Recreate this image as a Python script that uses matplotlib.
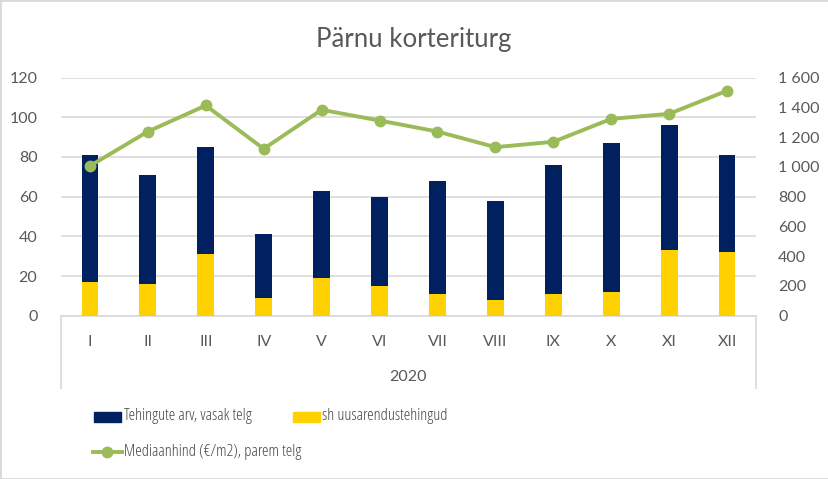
import matplotlib.pyplot as plt
from matplotlib.lines import Line2D
from matplotlib.patches import Rectangle
from matplotlib.ticker import FuncFormatter
import numpy as np

plt.rcParams['font.family'] = ['Lato', 'DejaVu Sans']

months = ["I", "II", "III", "IV", "V", "VI", "VII", "VIII", "IX", "X", "XI", "XII"]
tehingud = [81, 71, 85, 41, 63, 60, 68, 58, 76, 87, 96, 81]
uusarendus = [17, 16, 31, 9, 19, 15, 11, 8, 11, 12, 33, 32]
mediaanhind = [1006, 1237, 1412, 1121, 1383, 1311, 1237, 1132, 1168, 1322, 1356, 1511]
year = "2020"
labels = ["Tehingute arv, vasak telg", "sh uusarendustehingud", "Mediaanhind (€/m2), parem telg"]

NAVY = "#002060"
YELLOW = "#FFD100"
GREEN = "#9BBB59"
TXT = "#595959"
GRID = "#D9D9D9"

W, H = 829, 479
fig = plt.figure(figsize=(W / 100, H / 100), dpi=100)
ax = fig.add_axes([61 / W, 1 - 315.7 / H, (756 - 61) / W, (315.7 - 77.5) / H])
ax2 = ax.twinx()


def px(xp, yp):
    # pixel coords (from top-left) -> figure fraction
    return xp / W, 1 - yp / H


x = np.arange(len(months))
bw = 0.29
ax.bar(x, tehingud, bw, color=NAVY, zorder=2)
ax.bar(x, uusarendus, bw, color=YELLOW, zorder=3)
ax2.plot(x, mediaanhind, color=GREEN, lw=2.8, marker="o", ms=7.5)

ax.set_xlim(-0.5, len(months) - 0.5)
ax.set_ylim(0, 120)
ax.set_yticks(range(0, 121, 20))
ax2.set_ylim(0, 1600)
ax2.set_yticks(range(0, 1601, 200))
ax2.yaxis.set_major_formatter(FuncFormatter(lambda v, p: f"{int(v):,}".replace(",", " ")))

ax.yaxis.grid(True, color=GRID, lw=1.2, zorder=0)
ax.set_axisbelow(True)
for a in (ax, ax2):
    for s in a.spines.values():
        s.set_visible(False)
    a.tick_params(length=0, labelsize=11.5, colors=TXT)
ax.spines["bottom"].set_visible(True)
ax.spines["bottom"].set_color(GRID)
ax.spines["bottom"].set_linewidth(1.2)
ax.tick_params(axis="y", pad=17)
ax2.tick_params(axis="y", pad=16)
ax.set_xticks(x)
ax.set_xticklabels(months)
ax.tick_params(axis="x", pad=14)

# category group box
for xp in (61, 756):
    fig.add_artist(Line2D([xp / W] * 2, [1 - 315.7 / H, 1 - 388 / H], color=GRID, lw=1.2))
fig.text(*px(408, 377), year, ha="center", va="center", fontsize=11.5, color=TXT)

fig.text(*px(414, 40), "Pärnu korteriturg", ha="center", va="center", fontsize=18.5, color=TXT)

# legend, drawn by hand to match the layout (condensed font like the original)
legfont = dict(family=['Open Sans', 'DejaVu Sans'], stretch="condensed", fontsize=12,
               color="#474747", va="center", ha="left")
for (x0, yp, col) in [(94, 416.5, NAVY), (293, 416.5, YELLOW)]:
    fig.add_artist(Rectangle(px(x0, yp + 5), 27 / W, 10 / H, transform=fig.transFigure,
                             color=col))
fig.add_artist(Line2D([93 / W, 122 / W], [1 - 452 / H] * 2, color=GREEN, lw=2.8))
fig.add_artist(Line2D([107.5 / W], [1 - 452 / H], color=GREEN, marker="o", ms=7.5))
fig.text(*px(124, 416.5), labels[0], **legfont)
fig.text(*px(322, 416.5), labels[1], **legfont)
fig.text(*px(124, 452), labels[2], **legfont)

fig.add_artist(Rectangle((0, 0), 1, 1, transform=fig.transFigure, fill=False,
                         edgecolor=GRID, lw=2))

fig.savefig("out.png", dpi=100)
